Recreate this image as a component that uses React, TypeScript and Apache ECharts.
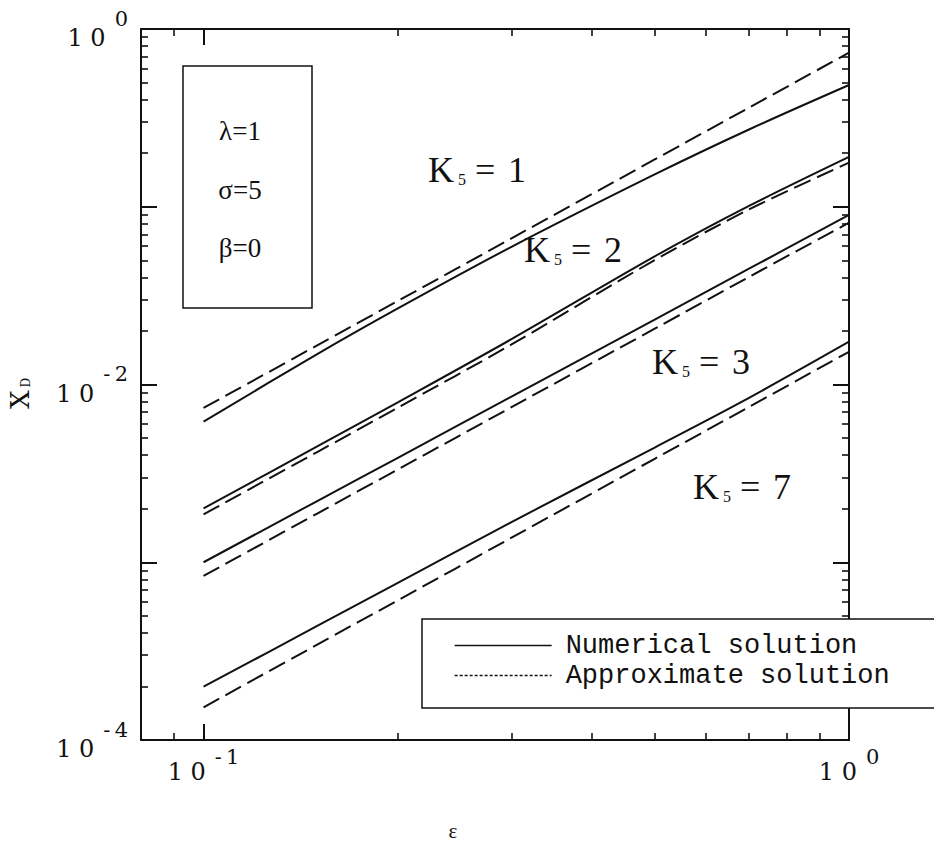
import React, { useEffect, useRef } from 'react';
import * as echarts from 'echarts';

// ε sample points shared by every curve
const epsilon = [0.1, 0.15, 0.2, 0.3, 0.5, 0.7, 1.0];

// X_D, numerical solution
const numericalK1 = [0.00618, 0.01483, 0.0268, 0.0595, 0.152, 0.272, 0.484];
const numericalK2 = [0.00201, 0.00448, 0.00794, 0.018, 0.0526, 0.1012, 0.191];
const numericalK3 = [0.001, 0.00221, 0.00387, 0.00855, 0.0232, 0.0448, 0.0899];
const numericalK7 = [0.0001995, 0.000438, 0.000766, 0.001683, 0.00442, 0.00841, 0.0174];

// X_D, approximate solution
const approximateK1 = [0.00738, 0.0166, 0.0295, 0.0664, 0.1845, 0.361, 0.736];
const approximateK2 = [0.00186, 0.00417, 0.00741, 0.0168, 0.0501, 0.0966, 0.177];
const approximateK3 = [0.000837, 0.00188, 0.00333, 0.00746, 0.0206, 0.0403, 0.0813];
const approximateK7 = [0.0001528, 0.000344, 0.000611, 0.001374, 0.00382, 0.00748, 0.01528];

const kValues = ['1', '2', '3', '7'];
const parameterLines = ['λ=1', 'σ=5', 'β=0'];
const seriesNames = ['Numerical solution', 'Approximate solution'];

// axis ticks (data units)
const xRange = [0.08, 1];
const xMajorTicks = [0.1, 1];
const xMinorTicks = [0.08, 0.09, 0.2, 0.3, 0.4, 0.5, 0.6, 0.7, 0.8, 0.9];
const yRange = [1e-4, 1];
const yDecades = [1e-4, 1e-3, 1e-2, 1e-1, 1];
const yLabelValues = [1e-4, 1e-2, 1];
const minorMultipliers = [2, 3, 4, 5, 6, 7, 8, 9];

const INK = '#111';
const TICK_FONT = '"DejaVu Serif", serif';
const TEXT_FONT = '"Liberation Serif", serif';

const lg = (v: number) => Math.log10(v);

const curves = [
  { num: numericalK1, apx: approximateK1 },
  { num: numericalK2, apx: approximateK2 },
  { num: numericalK3, apx: approximateK3 },
  { num: numericalK7, apx: approximateK7 },
];

const yMinorTicks: number[] = [];
yDecades.slice(0, -1).forEach((d) => minorMultipliers.forEach((m) => yMinorTicks.push(d * m)));

const powerLabel = (v: number) => {
  const p = Math.round(v);
  const exp = p === 0 ? '0' : '-\u2009' + Math.abs(p);
  return `{b|1 0}{e|${exp}}`;
};

// power-of-ten label: "10" on the baseline, exponent raised by `rise` px
const makeLabel = (margin: number, rise: number) => ({
  formatter: powerLabel,
  margin,
  fontFamily: TICK_FONT,
  fontSize: 24,
  color: INK,
  rich: {
    b: { fontFamily: TICK_FONT, fontSize: 24, color: INK, padding: [rise, 0, 0, 0], verticalAlign: 'bottom' },
    e: { fontFamily: TICK_FONT, fontSize: 21, color: INK, padding: [0, 0, rise, 9], verticalAlign: 'top' },
  },
});

const frameLine = () => ({ show: true, onZero: false, lineStyle: { color: INK, width: 2 } });
const hiddenLine = () => ({ show: false, onZero: false });

const tick = (values: number[], length: number) => ({
  show: true,
  inside: true,
  length,
  customValues: values.map(lg),
  lineStyle: { color: INK, width: length > 10 ? 2 : 1.6 },
});

const GRID = { left: 141, right: 85, top: 29, bottom: 107 };

function buildOption(): any {
  const xBase = () => ({ type: 'value', min: lg(xRange[0]), max: lg(xRange[1]), splitLine: { show: false } });
  const yBase = () => ({ type: 'value', min: lg(yRange[0]), max: lg(yRange[1]), splitLine: { show: false } });

  const xAxis = [
    {
      ...xBase(),
      gridIndex: 0,
      position: 'bottom',
      axisLine: frameLine(),
      axisTick: tick(xMajorTicks, 16),
      axisLabel: { ...makeLabel(6, 14), customValues: xMajorTicks.map(lg), align: 'center' },
      name: 'ε',
      nameLocation: 'middle',
      nameGap: 80,
      nameTextStyle: { fontFamily: TEXT_FONT, fontSize: 21, color: INK, padding: [0, 84, 0, 0] },
    },
    { ...xBase(), gridIndex: 0, position: 'top', axisLine: frameLine(), axisTick: tick(xMajorTicks, 16), axisLabel: { show: false } },
    { ...xBase(), gridIndex: 1, position: 'bottom', axisLine: hiddenLine(), axisTick: tick(xMinorTicks, 7), axisLabel: { show: false } },
    { ...xBase(), gridIndex: 1, position: 'top', axisLine: hiddenLine(), axisTick: tick(xMinorTicks, 7), axisLabel: { show: false } },
  ];

  const yAxis = [
    {
      ...yBase(),
      gridIndex: 0,
      position: 'left',
      axisLine: frameLine(),
      axisTick: tick(yDecades, 16),
      axisLabel: { ...makeLabel(13, 18), customValues: yLabelValues.map(lg), align: 'right' },
      name: '{x|X}{d|D}',
      nameLocation: 'middle',
      nameRotate: 90,
      nameGap: 108,
      nameTextStyle: {
        padding: [0, 18, 0, 0],
        rich: {
          x: { fontFamily: TICK_FONT, fontSize: 26, color: INK },
          d: { fontFamily: TICK_FONT, fontSize: 12, color: INK, padding: [11, 0, 0, 3] },
        },
      },
    },
    { ...yBase(), gridIndex: 0, position: 'right', axisLine: frameLine(), axisTick: tick(yDecades, 16), axisLabel: { show: false } },
    { ...yBase(), gridIndex: 1, position: 'left', axisLine: hiddenLine(), axisTick: tick(yMinorTicks, 7), axisLabel: { show: false } },
    { ...yBase(), gridIndex: 1, position: 'right', axisLine: hiddenLine(), axisTick: tick(yMinorTicks, 7), axisLabel: { show: false } },
  ];

  const series: any[] = [];
  curves.forEach((c) => {
    series.push({
      type: 'line',
      name: seriesNames[0],
      xAxisIndex: 0,
      yAxisIndex: 0,
      symbol: 'none',
      smooth: 0.3,
      silent: true,
      itemStyle: { color: INK },
      lineStyle: { color: INK, width: 2, type: 'solid' },
      data: epsilon.map((e, i) => [lg(e), lg(c.num[i])]),
    });
    series.push({
      type: 'line',
      name: seriesNames[1],
      xAxisIndex: 0,
      yAxisIndex: 0,
      symbol: 'none',
      smooth: 0.3,
      silent: true,
      itemStyle: { color: INK },
      lineStyle: { color: INK, width: 2, type: [18, 7] },
      data: epsilon.map((e, i) => [lg(e), lg(c.apx[i])]),
    });
  });

  const kAnchors = [
    [428, 170],
    [524, 250],
    [652, 362],
    [693, 487],
  ];
  const kLabels = kValues.map((k, i) => ({
    type: 'group',
    x: kAnchors[i][0],
    y: kAnchors[i][1],
    children: [
      { type: 'text', x: 0, y: 0, style: { text: 'K', fontFamily: TEXT_FONT, fontSize: 36, fill: INK, align: 'left', verticalAlign: 'middle' } },
      { type: 'text', x: 30, y: 9, style: { text: '5', fontFamily: TEXT_FONT, fontSize: 16, fill: INK, align: 'left', verticalAlign: 'middle' } },
      { type: 'text', x: 47, y: 0, style: { text: '=', fontFamily: TEXT_FONT, fontSize: 36, fill: INK, align: 'left', verticalAlign: 'middle' } },
      { type: 'text', x: 80, y: 0, style: { text: k, fontFamily: TEXT_FONT, fontSize: 36, fill: INK, align: 'left', verticalAlign: 'middle' } },
    ],
  }));

  const paramY = [131, 190, 248];
  const paramTexts = parameterLines.map((t, i) => ({
    type: 'text',
    x: 240,
    y: paramY[i],
    style: { text: t, fontFamily: TEXT_FONT, fontSize: 27, fill: INK, align: 'center', verticalAlign: 'middle' },
  }));

  return {
    animation: false,
    backgroundColor: '#fff',
    grid: [
      { ...GRID, outerBoundsMode: 'none' },
      { ...GRID, outerBoundsMode: 'none' },
    ],
    xAxis,
    yAxis,
    series,
    legend: {
      orient: 'vertical',
      left: 454,
      top: 632,
      padding: 0,
      itemGap: 3,
      itemWidth: 97,
      itemHeight: 14,
      z: 100,
      selectedMode: false,
      data: [
        { name: seriesNames[0], itemStyle: { opacity: 0 }, lineStyle: { type: 'solid', width: 1.3, color: INK } },
        { name: seriesNames[1], itemStyle: { opacity: 0 }, lineStyle: { type: [3, 2], width: 1.3, color: INK } },
      ],
      formatter: (n: string) => `{t|${n}}`,
      textStyle: {
        rich: {
          t: { fontFamily: '"Liberation Mono", monospace', fontSize: 27, lineHeight: 27, color: INK, padding: [0, 0, 0, 9] },
        },
      },
    },
    graphic: [
      {
        type: 'rect',
        z: 50,
        shape: { x: 183, y: 66, width: 129, height: 242 },
        style: { fill: 'rgba(0,0,0,0)', stroke: INK, lineWidth: 1.5 },
      },
      ...paramTexts,
      ...kLabels,
      {
        type: 'rect',
        z: 50,
        shape: { x: 422, y: 619, width: 560, height: 89 },
        style: { fill: '#fff', stroke: INK, lineWidth: 1.5 },
      },
    ],
  };
}

export default function App() {
  const ref = useRef<HTMLDivElement>(null);

  useEffect(() => {
    if (!ref.current) return;
    const chart = echarts.init(ref.current, undefined, { renderer: 'svg' });
    chart.setOption(buildOption());
    return () => chart.dispose();
  }, []);

  return (
    <div
      ref={ref}
      style={{ position: 'fixed', left: 0, top: 0, width: 934, height: 847, background: '#fff' }}
    />
  );
}
